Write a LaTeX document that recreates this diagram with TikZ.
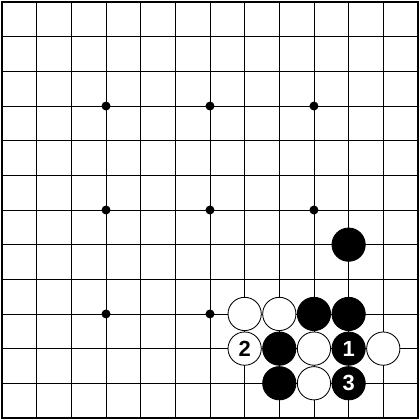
\documentclass[tikz,border=0pt]{standalone}
\usepackage{fontspec}
\setsansfont{Liberation Sans}
\begin{document}
\begin{tikzpicture}
\def\dn{12};
\def\dm{0.06};
\def\ds{0.96};
\def\dh{0.13};
\tikzset{
  bstone/.style={circle,draw=black,fill=black,line width=0.7pt,minimum size=\ds cm,inner sep=0pt,text=white,font=\sffamily\bfseries\fontsize{18}{18}\selectfont},
  wstone/.style={bstone,fill=white,text=black},
}
\useasboundingbox (-\dm,-\dm) rectangle (\dn+\dm,\dn+\dm);
%grid
\foreach\i in {0,1,...,12} {
  \draw[line width=0.7pt] (\i,0) -- (\i,\dn);
  \draw[line width=0.7pt] (0,\i) -- (\dn,\i);
}
\draw[line width=1.2pt] (0,0) rectangle (\dn,\dn);
%hoshi
\foreach\x/\y in {3/3,3/6,3/9,6/3,6/6,6/9,9/3,9/6,9/9} {
  \fill (\x,\y) circle (\dh);
}
%black stones
\foreach\x/\y in {10/5,9/3,10/3,8/2,8/1} {
  \node[bstone] (b\x\y) at (\x,\y) {};
}
%white stones
\foreach\x/\y in {7/3,8/3,9/2,11/2,9/1} {
  \node[wstone] (w\x\y) at (\x,\y) {};
}
%numbered moves
\node[bstone] (m1) at (10,2) {1};
\node[wstone] (m2) at (7,2) {2};
\node[bstone] (m3) at (10,1) {3};
\end{tikzpicture}
\end{document}
